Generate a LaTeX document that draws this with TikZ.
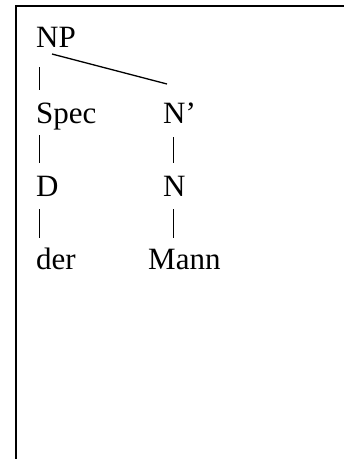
\documentclass[tikz,border=0pt]{standalone}
\usepackage{fontspec}
\setmainfont{Liberation Serif}
\usetikzlibrary{calc}
\begin{document}
\begin{tikzpicture}[x=1pt,y=-1pt,
  lbl/.style={anchor=base west,inner sep=0pt,font=\fontsize{31}{36}\selectfont},
  bar/.style={line width=1pt},
  branch/.style={line width=1.3pt}]
\useasboundingbox (0,0) rectangle (344,459);
\draw[line width=1.6pt] (16,459) -- (16,6) -- (344,6);
\node[lbl] (NP) at (36,47) {NP};
\node[lbl] (Spec) at (36,123) {Spec};
\node[lbl] (Nbar) at (163,123) {N’};
\node[lbl] (D) at (36,196) {D};
\node[lbl] (N) at (163,196) {N};
\node[lbl] (der) at (36,269) {der};
\node[lbl] (Mann) at (148,269) {Mann};
\coordinate (b1t) at ($(NP.base west)+(3,20)$);
\coordinate (b1b) at ($(NP.base west)+(3,43)$);
\draw[bar] (b1t) -- (b1b);
\draw[branch] ($(NP.base west)+(16,7)$) -- ($(Nbar.base west)+(4,-39)$);
\draw[bar] ($(Spec.base west)+(3,12)$) -- ($(Spec.base west)+(3,40)$);
\draw[bar] ($(Nbar.base west)+(10,14)$) -- ($(Nbar.base west)+(10,40)$);
\draw[bar] ($(D.base west)+(3,13)$) -- ($(D.base west)+(3,42)$);
\draw[bar] ($(N.base west)+(10,13)$) -- ($(N.base west)+(10,42)$);
\end{tikzpicture}
\end{document}
